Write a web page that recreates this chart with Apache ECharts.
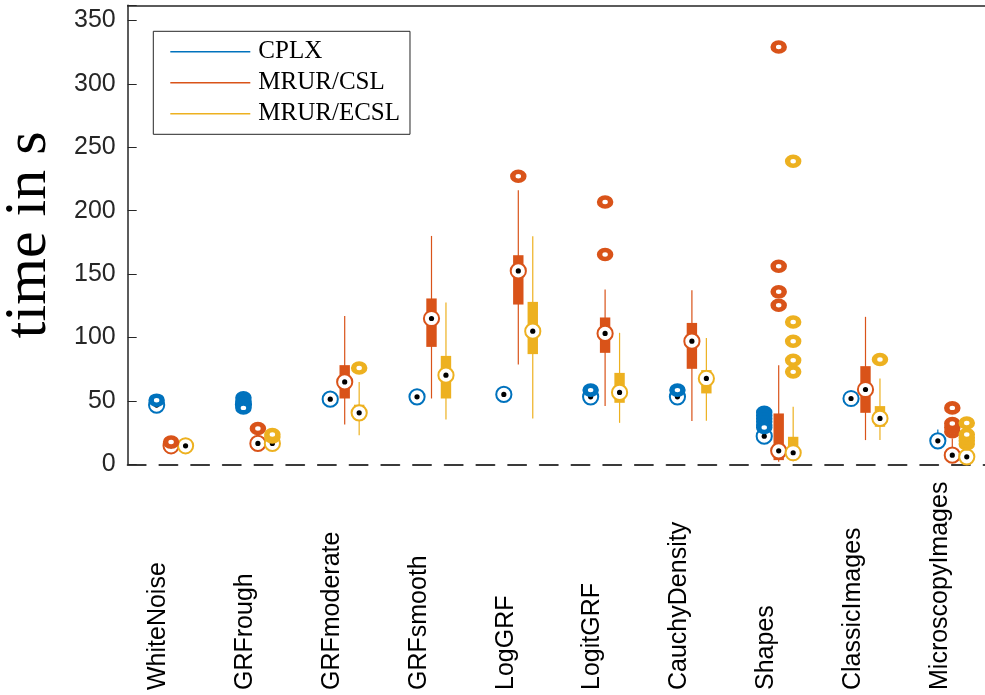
<!DOCTYPE html>
<html><head><meta charset="utf-8">
<script src="https://cdn.jsdelivr.net/npm/echarts@6/dist/echarts.min.js"></script>
<style>html,body{margin:0;padding:0;background:#fff}#c{width:985px;height:695px}</style>
</head><body><div id="c"></div>
<script>
// ---- data ----
const categories = ['WhiteNoise','GRFrough','GRFmoderate','GRFsmooth','LogGRF','LogitGRF','CauchyDensity','Shapes','ClassicImages','MicroscopyImages'];
const groupNames = ['CPLX','MRUR/CSL','MRUR/ECSL'];
const groupColors = ['#0072BD','#D95319','#EDB120'];
const yMin = 0, yMax = 362, yInterval = 50;

// [lower whisker, q1, median, q3, upper whisker] per category
const cplxStats = [
  [44.5, 46, 46.7, 47.5, 48.5],
  [45.5, 46.5, 47.2, 47.8, 48.5],
  [50.5, 51, 51.4, 51.8, 52.5],
  [52.2, 52.8, 53.2, 53.6, 54.2],
  [54, 54.6, 55.1, 55.5, 56],
  [52, 52.7, 53.2, 53.7, 54.5],
  [52, 52.7, 53.2, 53.7, 54.5],
  [17, 19.5, 22.2, 25, 27],
  [50.5, 51.2, 51.9, 52.5, 53.2],
  [13, 15.5, 18.5, 21, 27.5]
];
const csclStats = [
  [12.5, 13.5, 14.6, 15.5, 16],
  [14, 15.5, 16.5, 17.5, 19.5],
  [31.4, 51.9, 65, 78.2, 117],
  [51.9, 92.6, 115, 130.8, 180.1],
  [78.7, 126, 152.5, 164.9, 216.1],
  [45.9, 87.9, 103.2, 115.8, 137.9],
  [34.1, 75.3, 97.1, 111.5, 137.3],
  [2, 3.3, 10.6, 40.1, 78.2],
  [19.1, 40.6, 59, 77.4, 116.3],
  [3, 5, 7.2, 12, 20.4]
];
const ecslStats = [
  [12.5, 13.5, 14.6, 15.5, 16.5],
  [14, 15.5, 16.5, 17.5, 19],
  [23, 35, 40.6, 47, 65],
  [35.4, 51.9, 70.3, 85.5, 127.6],
  [36.2, 86.9, 105, 128.1, 179.9],
  [32.7, 48.5, 56.7, 72.1, 103.7],
  [34.3, 55.9, 67.7, 74.3, 99.7],
  [2.5, 4, 9.1, 21.7, 45.3],
  [19.1, 29.6, 36.2, 45.9, 67.7],
  [2, 4, 5.9, 9, 12]
];
// outliers: [category index, value]
const cplxOutliers = [
  [0, 50.6],
  [1, 52.5], [1, 50], [1, 47.5], [1, 44.5],
  [5, 58.5],
  [6, 58.5],
  [7, 41], [7, 38.5], [7, 36], [7, 33.5], [7, 31], [7, 29]
];
const csclOutliers = [
  [0, 17.5],
  [1, 28.3],
  [4, 227.2],
  [5, 165.5], [5, 206.9],
  [7, 125.5], [7, 136], [7, 156.2], [7, 329.1],
  [9, 25.6], [9, 29], [9, 32.2], [9, 44.5]
];
const ecslOutliers = [
  [1, 21.5], [1, 23.5],
  [2, 76],
  [7, 72.9], [7, 82.1], [7, 97.1], [7, 112.3], [7, 239],
  [8, 82.7],
  [9, 16], [9, 18.5], [9, 21], [9, 23.5], [9, 32.5]
];

const allStats = [cplxStats, csclStats, ecslStats];
const allOutliers = [cplxOutliers, csclOutliers, ecslOutliers];
const groupOffsets = [-1/6, 0, 1/6];

// ---- chart ----
const chart = echarts.init(document.getElementById('c'), null, {renderer: 'canvas'});
const axisColor = '#262626';

function renderBox(params, api) {
  const x = api.value(0);
  const p = [1, 2, 3, 4, 5].map(i => api.coord([x, api.value(i)]));
  const cx = p[0][0];
  const color = api.visual('color');
  return {
    type: 'group',
    children: [
      {type: 'line', shape: {x1: cx, y1: p[0][1], x2: cx, y2: p[4][1]}, style: {stroke: color, lineWidth: 1.2}},
      {type: 'rect', shape: {x: cx - 5.2, y: p[3][1], width: 10.4, height: p[1][1] - p[3][1]}, style: {fill: color}},
      {type: 'circle', shape: {cx: cx, cy: p[2][1], r: 7.6}, style: {fill: '#fff', stroke: color, lineWidth: 2}},
      {type: 'circle', shape: {cx: cx, cy: p[2][1], r: 2.6}, style: {fill: '#000'}}
    ]
  };
}

const series = [];
groupNames.forEach((name, g) => {
  series.push({
    name: name,
    type: 'custom',
    xAxisIndex: 0,
    yAxisIndex: 0,
    renderItem: renderBox,
    itemStyle: {color: groupColors[g]},
    encode: {x: 0, y: [1, 2, 3, 4, 5]},
    data: allStats[g].map((s, i) => [i + 1 + groupOffsets[g]].concat(s)),
    z: 2
  });
});
groupNames.forEach((name, g) => {
  series.push({
    name: name + ' outliers',
    type: 'scatter',
    xAxisIndex: 0,
    yAxisIndex: 0,
    symbol: 'circle',
    symbolSize: [11, 9],
    itemStyle: {color: '#fff', borderColor: groupColors[g], borderWidth: 5, opacity: 1},
    data: allOutliers[g].map(o => [o[0] + 1 + groupOffsets[g], o[1]]),
    z: 3
  });
});

chart.setOption({
  animation: false,
  backgroundColor: '#fff',
  grid: {left: 127.7, top: 5.3, width: 868, height: 459, containLabel: false, outerBoundsMode: 'none'},
  legend: {
    orient: 'vertical',
    left: 153.3,
    top: 31.3,
    padding: [8, 10, 8, 17],
    itemWidth: 80,
    itemHeight: 1.5,
    itemGap: 6,
    backgroundColor: '#fff',
    borderColor: axisColor,
    borderWidth: 1,
    borderRadius: 0,
    selectedMode: false,
    textStyle: {fontFamily: 'Liberation Serif', fontSize: 25, lineHeight: 24, color: '#000', padding: [0, 0, 0, 3]},
    data: groupNames.map(n => ({name: n, icon: 'rect'}))
  },
  xAxis: [
    {
      type: 'value', position: 'bottom', min: 0.5, max: 10.5,
      axisLine: {show: true, lineStyle: {color: '#3a3a3a', width: 2, type: [18, 13.7]}},
      axisTick: {show: false}, axisLabel: {show: false}, splitLine: {show: false}
    },
    {
      type: 'category', position: 'bottom', data: categories, boundaryGap: true,
      axisLine: {show: false}, axisTick: {show: false}, splitLine: {show: false},
      axisLabel: {
        show: true, interval: 0, rotate: 90, align: 'left', verticalAlign: 'bottom',
        margin: 225.7, fontFamily: 'Liberation Sans', fontSize: 25, color: '#000'
      }
    },
    {
      type: 'value', position: 'top', min: 0.5, max: 10.5,
      axisLine: {show: true, lineStyle: {color: axisColor, width: 1.5}},
      axisTick: {show: false}, axisLabel: {show: false}, splitLine: {show: false}
    }
  ],
  yAxis: {
    type: 'value', min: yMin, max: yMax, interval: yInterval,
    name: 'time in s', nameLocation: 'middle', nameGap: 68,
    nameTextStyle: {fontFamily: 'Liberation Serif', fontSize: 60, color: '#000'},
    axisLine: {show: true, lineStyle: {color: axisColor, width: 1.5}},
    axisTick: {show: true, inside: true, length: 9, lineStyle: {color: axisColor, width: 1}},
    axisLabel: {
      margin: 12, fontFamily: 'Liberation Sans', fontSize: 25, color: axisColor,
      formatter: v => (v % yInterval === 0 ? String(v) : '')
    },
    splitLine: {show: false}
  },
  series: series
});
</script>
</body></html>
